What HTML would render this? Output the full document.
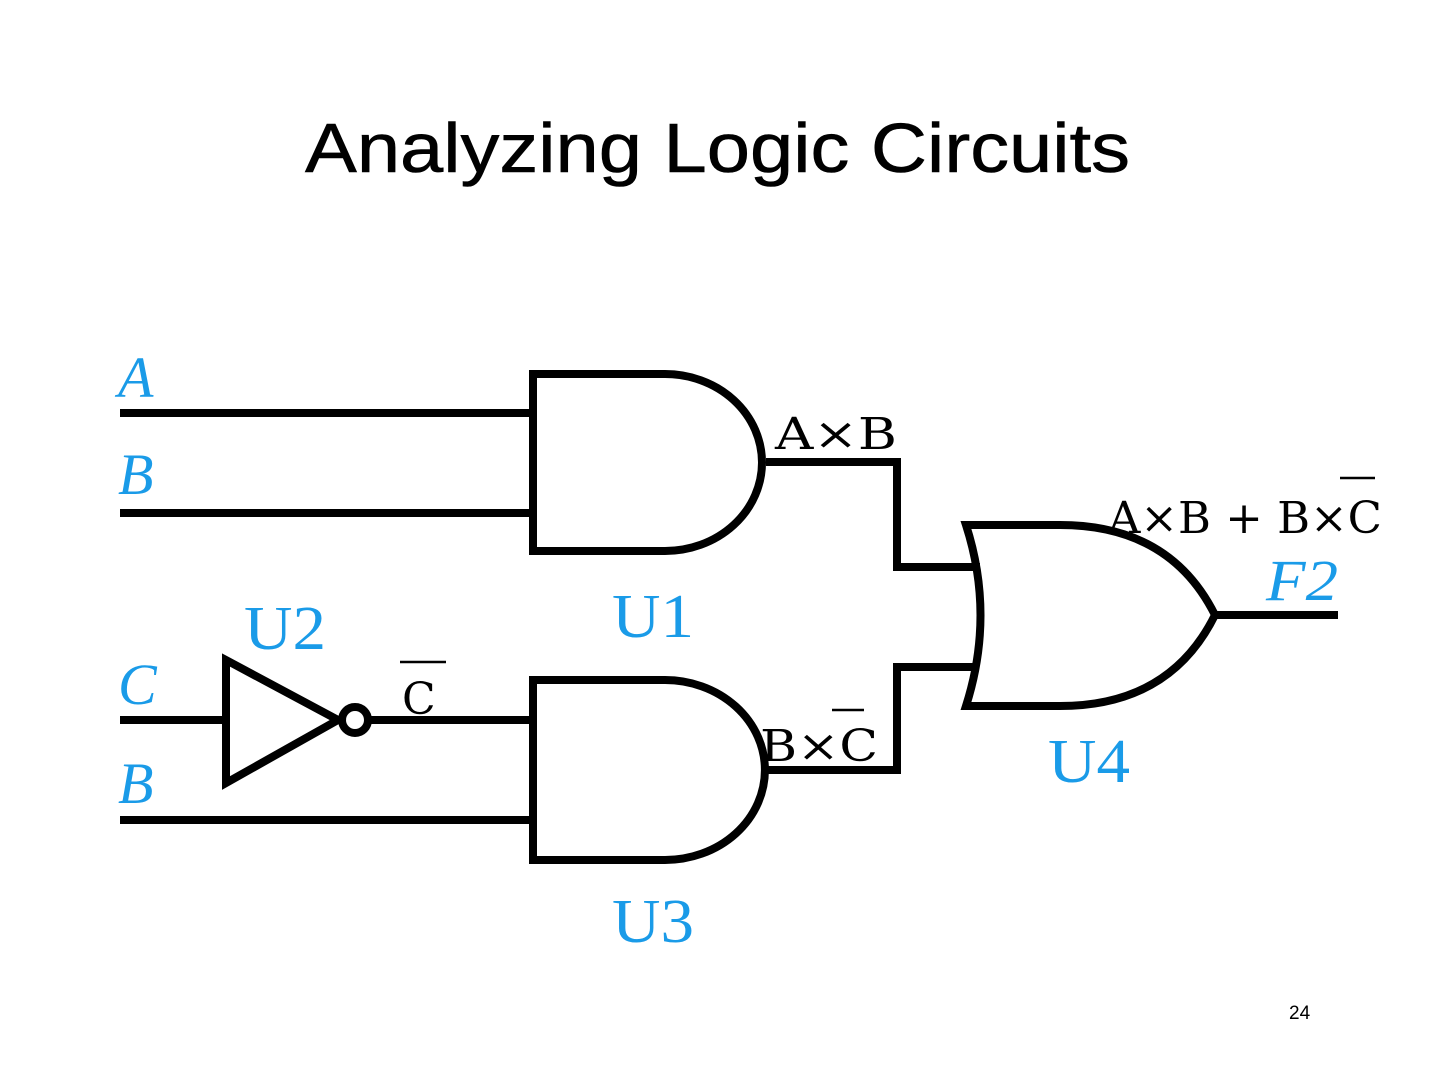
<!DOCTYPE html>
<html><head><meta charset="utf-8"><style>html,body{margin:0;padding:0;background:#fff}svg{display:block}</style></head>
<body>
<svg width="1440" height="1080" viewBox="0 0 1440 1080" xmlns="http://www.w3.org/2000/svg">
<text x="305" y="172" font-family="Liberation Sans, sans-serif" font-size="70" textLength="825" lengthAdjust="spacingAndGlyphs" fill="#000" stroke="#000" stroke-width="0.6">Analyzing Logic Circuits</text>
<g fill="none" stroke="#000" stroke-width="8" stroke-linejoin="miter">
<path d="M533 374 H665 A97 88.5 0 0 1 665 551 H533 Z"/>
<line x1="120" y1="413" x2="533" y2="413"/>
<line x1="120" y1="513" x2="533" y2="513"/>
<path d="M766 462 H897 V567 H980"/>
<path d="M533 680 H665 A100 90 0 0 1 665 860 H533 Z"/>
<line x1="120" y1="820" x2="533" y2="820"/>
<line x1="369" y1="720" x2="533" y2="720"/>
<path d="M766 770 H897 V667 H976"/>
<line x1="120" y1="720" x2="226" y2="720"/>
<path d="M226 660 L338 720 L226 783 Z"/>
<circle cx="355" cy="720" r="13"/>
<path d="M966 525 Q995 615 966 706 H1060 Q1170 706 1215 615 Q1170 525 1060 525 Z"/>
<line x1="1215" y1="615" x2="1338" y2="615"/>
</g>
<g fill="#1a9be8" font-family="Liberation Serif, serif">
<text x="118" y="397" font-size="58" font-style="italic">A</text>
<text x="118" y="494" font-size="58" font-style="italic">B</text>
<text x="118" y="704" font-size="58" font-style="italic">C</text>
<text x="118" y="803" font-size="58" font-style="italic">B</text>
<text x="1266" y="600" font-size="58" font-style="italic" textLength="72" lengthAdjust="spacingAndGlyphs">F2</text>
<text x="612" y="637" font-size="62" textLength="82" lengthAdjust="spacingAndGlyphs">U1</text>
<text x="244" y="649" font-size="62" textLength="82" lengthAdjust="spacingAndGlyphs">U2</text>
<text x="612" y="942" font-size="62" textLength="82" lengthAdjust="spacingAndGlyphs">U3</text>
<text x="1048" y="782" font-size="62" textLength="82" lengthAdjust="spacingAndGlyphs">U4</text>
</g>
<g fill="#000" font-family="DejaVu Serif, Liberation Serif, serif" font-size="44">
<text x="775" y="449" textLength="122" lengthAdjust="spacingAndGlyphs">A×B</text>
<text x="402" y="714">C</text>
<text x="760" y="761" textLength="118" lengthAdjust="spacingAndGlyphs">B×C</text>
<text x="1108" y="533" textLength="274" lengthAdjust="spacingAndGlyphs">A×B + B×C</text>
</g>
<g stroke="#000" stroke-width="2.5">
<line x1="400" y1="662" x2="446" y2="662"/>
<line x1="832" y1="710" x2="864" y2="710"/>
<line x1="1340" y1="478" x2="1375" y2="478"/>
</g>
<text x="1289" y="1019" font-family="Liberation Sans, sans-serif" font-size="19" fill="#000">24</text>
</svg>
</body></html>
